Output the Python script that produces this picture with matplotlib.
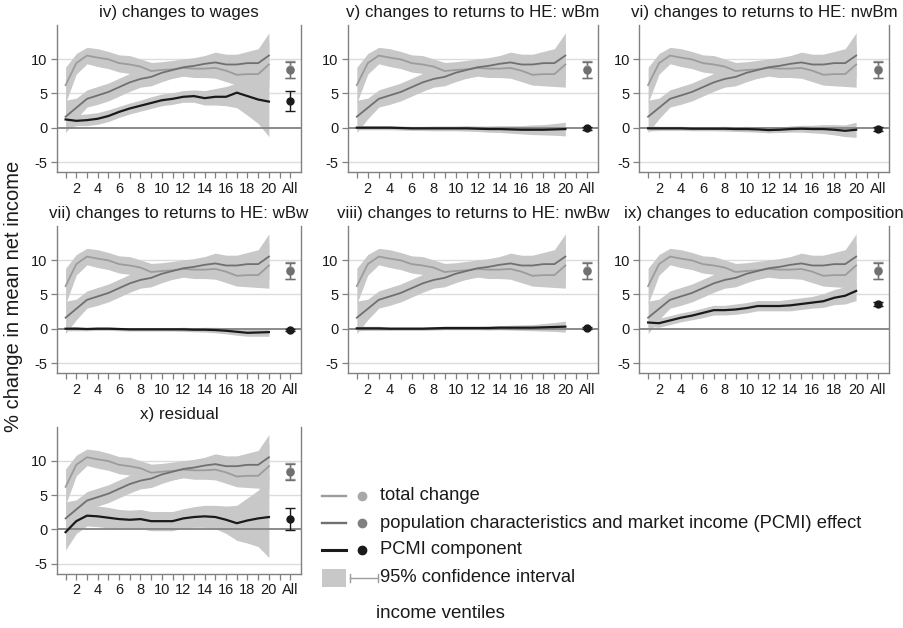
import numpy as np
import matplotlib
matplotlib.use("Agg")
import matplotlib.pyplot as plt
from matplotlib.patches import Rectangle
from matplotlib.lines import Line2D

plt.rcParams['font.family'] = ['Liberation Sans', 'DejaVu Sans']

# ---------------------------------------------------------------- data
ventiles = list(range(1, 21))
tick_labels = ['2', '4', '6', '8', '10', '12', '14', '16', '18', '20', 'All']

total = [6.2, 9.4, 10.5, 10.2, 9.95, 9.4, 9.2, 8.9, 8.25, 8.4,
         8.5, 8.7, 8.6, 8.6, 8.7, 8.3, 7.7, 7.8, 7.8, 9.2]
total_lo = [3.6, 7.8, 9.3, 8.9, 8.6, 8.1, 7.9, 7.7, 7.0, 7.1,
            7.2, 7.5, 7.3, 7.3, 7.2, 6.7, 6.2, 6.1, 6.0, 5.9]
total_hi = [8.8, 10.8, 11.7, 11.5, 11.1, 10.6, 10.5, 10.0, 9.5, 9.6,
            9.8, 10.0, 9.9, 10.0, 10.1, 9.6, 9.1, 9.3, 9.3, 12.5]

effect = [1.6, 2.9, 4.2, 4.7, 5.2, 5.9, 6.6, 7.1, 7.4, 8.0,
          8.4, 8.8, 9.0, 9.3, 9.5, 9.2, 9.2, 9.4, 9.4, 10.5]
effect_lo = [-0.7, 1.3, 3.0, 3.4, 3.9, 4.6, 5.3, 5.9, 6.1, 6.7,
             7.2, 7.6, 7.8, 8.1, 8.1, 7.8, 7.7, 7.7, 7.4, 7.2]
effect_hi = [4.0, 4.3, 5.5, 6.0, 6.5, 7.2, 7.9, 8.4, 8.7, 9.3,
             9.6, 10.0, 10.2, 10.5, 11.0, 10.7, 10.7, 11.1, 11.5, 13.8]

total_all = [8.5, 7.3, 9.7]     # estimate, lower, upper
effect_all = [8.4, 7.2, 9.5]

titles = ['iv) changes to wages',
          'v) changes to returns to HE: wBm',
          'vi) changes to returns to HE: nwBm',
          'vii) changes to returns to HE: wBw',
          'viii) changes to returns to HE: nwBw',
          'ix) changes to education composition',
          'x) residual']

comp_wages = [1.2, 1.0, 1.1, 1.3, 1.7, 2.3, 2.8, 3.2, 3.6, 4.0,
              4.2, 4.5, 4.6, 4.3, 4.5, 4.5, 5.1, 4.6, 4.1, 3.8]
comp_wages_lo = [-0.2, 0.3, 0.3, 0.5, 0.9, 1.5, 2.0, 2.4, 2.8, 3.2,
                 3.4, 3.7, 3.7, 3.3, 3.3, 3.2, 2.9, 1.8, 0.6, -1.3]
comp_wages_hi = [2.6, 1.9, 2.0, 2.2, 2.6, 3.1, 3.6, 4.0, 4.5, 4.9,
                 5.1, 5.4, 5.5, 5.4, 5.7, 6.0, 6.5, 7.1, 7.5, 8.9]

comp_wbm = [0.0, 0.0, 0.0, 0.0, -0.05, -0.1, -0.1, -0.1, -0.1, -0.1,
            -0.1, -0.15, -0.2, -0.2, -0.25, -0.3, -0.3, -0.3, -0.25, -0.2]
comp_wbm_lo = [-0.3, -0.3, -0.3, -0.3, -0.35, -0.4, -0.4, -0.45, -0.45, -0.45,
               -0.5, -0.55, -0.65, -0.7, -0.8, -0.9, -1.0, -1.05, -1.1, -1.2]
comp_wbm_hi = [0.3, 0.3, 0.3, 0.3, 0.25, 0.2, 0.2, 0.25, 0.25, 0.25,
               0.3, 0.25, 0.25, 0.3, 0.3, 0.3, 0.4, 0.45, 0.6, 0.8]

comp_nwbm = [-0.1, -0.1, -0.1, -0.1, -0.15, -0.15, -0.15, -0.15, -0.2, -0.2,
             -0.25, -0.35, -0.3, -0.2, -0.15, -0.2, -0.2, -0.3, -0.45, -0.3]
comp_nwbm_lo = [-0.5, -0.4, -0.4, -0.4, -0.45, -0.45, -0.45, -0.5, -0.55, -0.6,
                -0.65, -0.75, -0.7, -0.65, -0.65, -0.75, -0.85, -1.05, -1.3, -1.4]
comp_nwbm_hi = [0.3, 0.2, 0.2, 0.2, 0.15, 0.15, 0.15, 0.2, 0.15, 0.2,
                0.15, 0.05, 0.1, 0.25, 0.35, 0.35, 0.45, 0.45, 0.4, 0.8]

comp_wbw = [0.0, 0.0, -0.05, 0.0, 0.0, -0.05, -0.1, -0.1, -0.1, -0.1,
            -0.1, -0.1, -0.15, -0.15, -0.2, -0.3, -0.45, -0.6, -0.55, -0.5]
comp_wbw_lo = [-0.3, -0.3, -0.3, -0.25, -0.25, -0.3, -0.35, -0.35, -0.35, -0.35,
               -0.35, -0.4, -0.45, -0.5, -0.6, -0.75, -0.95, -1.1, -1.1, -1.1]
comp_wbw_hi = [0.3, 0.3, 0.2, 0.25, 0.25, 0.2, 0.15, 0.15, 0.15, 0.15,
               0.15, 0.2, 0.15, 0.2, 0.2, 0.15, 0.05, -0.1, 0.0, 0.1]

comp_nwbw = [0.05, 0.05, 0.05, 0.0, 0.0, 0.0, 0.0, 0.05, 0.1, 0.1,
             0.1, 0.1, 0.1, 0.15, 0.15, 0.15, 0.15, 0.2, 0.25, 0.3]
comp_nwbw_lo = [-0.3, -0.25, -0.25, -0.25, -0.25, -0.25, -0.25, -0.2, -0.15, -0.15,
                -0.15, -0.15, -0.2, -0.15, -0.2, -0.25, -0.3, -0.35, -0.4, -0.5]
comp_nwbw_hi = [0.4, 0.35, 0.35, 0.25, 0.25, 0.25, 0.25, 0.3, 0.35, 0.35,
                0.35, 0.35, 0.4, 0.45, 0.5, 0.55, 0.6, 0.75, 0.9, 1.1]

comp_educ = [0.9, 0.8, 1.2, 1.6, 1.9, 2.3, 2.7, 2.7, 2.8, 3.0,
             3.3, 3.3, 3.3, 3.4, 3.6, 3.8, 4.0, 4.5, 4.8, 5.5]
comp_educ_lo = [0.3, 0.2, 0.6, 1.0, 1.3, 1.6, 2.0, 2.0, 2.1, 2.3,
                2.6, 2.6, 2.6, 2.6, 2.8, 3.0, 3.1, 3.5, 3.6, 4.1]
comp_educ_hi = [1.6, 1.5, 1.9, 2.3, 2.6, 3.0, 3.4, 3.4, 3.6, 3.8,
                4.1, 4.1, 4.1, 4.3, 4.5, 4.7, 5.1, 5.7, 6.1, 7.0]

comp_resid = [-0.4, 1.2, 2.0, 1.9, 1.7, 1.5, 1.4, 1.5, 1.2, 1.2,
              1.2, 1.6, 1.8, 1.9, 1.8, 1.4, 0.9, 1.3, 1.6, 1.8]
comp_resid_lo = [-3.0, -0.6, 0.5, 0.4, 0.2, 0.1, 0.0, 0.1, -0.2, -0.2,
                 -0.2, 0.2, 0.3, 0.3, 0.1, -0.6, -1.6, -2.0, -2.5, -4.1]
comp_resid_hi = [2.2, 3.0, 3.5, 3.4, 3.2, 2.9, 2.8, 2.9, 2.6, 2.6,
                 2.6, 3.0, 3.3, 3.5, 3.5, 3.4, 3.5, 4.6, 5.7, 7.8]

# estimate, lower, upper for the "All" column of each component
comp_all = [[3.9, 2.5, 5.3], [-0.1, -0.35, 0.15], [-0.2, -0.45, 0.05],
            [-0.2, -0.4, 0.0], [0.1, -0.1, 0.3], [3.6, 3.35, 3.85],
            [1.5, -0.1, 3.1]]

components = [(comp_wages, comp_wages_lo, comp_wages_hi),
              (comp_wbm, comp_wbm_lo, comp_wbm_hi),
              (comp_nwbm, comp_nwbm_lo, comp_nwbm_hi),
              (comp_wbw, comp_wbw_lo, comp_wbw_hi),
              (comp_nwbw, comp_nwbw_lo, comp_nwbw_hi),
              (comp_educ, comp_educ_lo, comp_educ_hi),
              (comp_resid, comp_resid_lo, comp_resid_hi)]

# ---------------------------------------------------------------- style
C_BAND = '#c8c8c8'
C_TOTAL = '#9c9c9c'
C_EFFECT = '#707070'
C_COMP = '#1a1a1a'
C_SPINE = '#808080'
C_GRID = '#dcdcdc'
C_ZERO = '#8a8a8a'

W, H = 904, 628
fig = plt.figure(figsize=(W / 100, H / 100), dpi=100)

col_px = [(56.7, 244.3), (347.7, 250.6), (639.0, 250.0)]
row_px = [25.0, 226.0, 426.7]
ax_h = 147.0

x_all = 22


def panel(ax, title, comp, comp_all_vals):
    c, clo, chi = comp
    ax.set_xlim(0.17, 23.0)
    ax.set_ylim(-6.45, 14.95)
    for y in (-5, 5, 10):
        ax.axhline(y, color=C_GRID, lw=1.0, zorder=0)
    ax.fill_between(ventiles, total_lo, total_hi, color=C_BAND, lw=0, zorder=1)
    ax.fill_between(ventiles, effect_lo, effect_hi, color=C_BAND, lw=0, zorder=1)
    ax.fill_between(ventiles, clo, chi, color=C_BAND, lw=0, zorder=1)
    ax.axhline(0, color=C_ZERO, lw=1.4, zorder=2)
    ax.plot(ventiles, total, color=C_TOTAL, lw=1.3, zorder=3)
    ax.plot(ventiles, effect, color=C_EFFECT, lw=1.3, zorder=3)
    ax.plot(ventiles, c, color=C_COMP, lw=1.6, zorder=4)

    for vals, col in ((total_all, C_TOTAL), (effect_all, C_EFFECT)):
        est, lo, hi = vals
        ax.errorbar([x_all], [est], yerr=[[est - lo], [hi - est]], fmt='o',
                    color=col, ms=5, elinewidth=1.0, capsize=3.5, capthick=1.0,
                    zorder=5)
    est, lo, hi = comp_all_vals
    ax.errorbar([x_all], [est], yerr=[[est - lo], [hi - est]], fmt='o',
                color=C_COMP, ms=5, elinewidth=1.0, capsize=3.5, capthick=1.0,
                zorder=6)

    ax.spines['top'].set_visible(False)
    for s in ('left', 'right', 'bottom'):
        ax.spines[s].set_color(C_SPINE)
        ax.spines[s].set_linewidth(1.0)
    ax.set_yticks([-5, 0, 5, 10])
    ax.set_yticklabels(['-5', '0', '5', '10'])
    ax.set_xticks(list(range(1, 23)))
    ax.set_xticklabels(['' if (t % 2 == 1 or t == 21) else
                        ('All' if t == x_all else str(t)) for t in range(1, 23)])
    ax.tick_params(axis='both', colors=C_SPINE, labelcolor='#1a1a1a',
                   labelsize=10.5, length=4.5, width=0.9, direction='out')
    ax.tick_params(axis='x', pad=2.5)
    ax.tick_params(axis='y', pad=2)
    ax.text(0.5, 1 + 12.5 / ax_h, title, transform=ax.transAxes,
            ha='center', va='center', fontsize=12.2, color='#1a1a1a')


layout = [(0, 0), (0, 1), (0, 2), (1, 0), (1, 1), (1, 2), (2, 0)]
for i, (r, cidx) in enumerate(layout):
    left, width = col_px[cidx]
    top = row_px[r]
    ax = fig.add_axes([left / W, 1 - (top + ax_h) / H, width / W, ax_h / H])
    panel(ax, titles[i], components[i], comp_all[i])

# ---------------------------------------------------------------- labels and key
fig.text(14 / W, 1 - 296 / H, '% change in mean net income', rotation=90,
         ha='center', va='center', fontsize=14.5, color='#1a1a1a')
fig.text(440 / W, 1 - 614 / H, 'income ventiles', ha='center', va='center',
         fontsize=13.5, color='#1a1a1a')

key = fig.add_axes([0, 0, 1, 1], zorder=10)
key.set_xlim(0, W)
key.set_ylim(H, 0)
key.axis('off')

key_rows = [('total change', C_TOTAL, 1.3, '#a8a8a8', 496),
            ('population characteristics and market income (PCMI) effect',
             C_EFFECT, 1.3, '#808080', 523),
            ('PCMI component', C_COMP, 1.8, C_COMP, 550)]
for label, lc, lw, mc, y in key_rows:
    key.add_line(Line2D([322, 346], [y, y], color=lc, lw=lw + 0.4))
    key.plot([362], [y], 'o', color=mc, ms=6)
    key.text(380, y, label, ha='left', va='center', fontsize=13.2,
             color='#1a1a1a')

y_ci = 578
key.add_patch(Rectangle((322, y_ci - 9), 24, 18, color=C_BAND, lw=0))
key.add_line(Line2D([350, 378], [y_ci, y_ci], color=C_TOTAL, lw=1.0))
key.add_line(Line2D([350, 350], [y_ci - 4, y_ci + 4], color=C_TOTAL, lw=1.0))
key.add_line(Line2D([378, 378], [y_ci - 4, y_ci + 4], color=C_TOTAL, lw=1.0))
key.text(380, y_ci, '95% confidence interval', ha='left', va='center',
         fontsize=13.2, color='#1a1a1a')

fig.savefig('out.png', dpi=100)
